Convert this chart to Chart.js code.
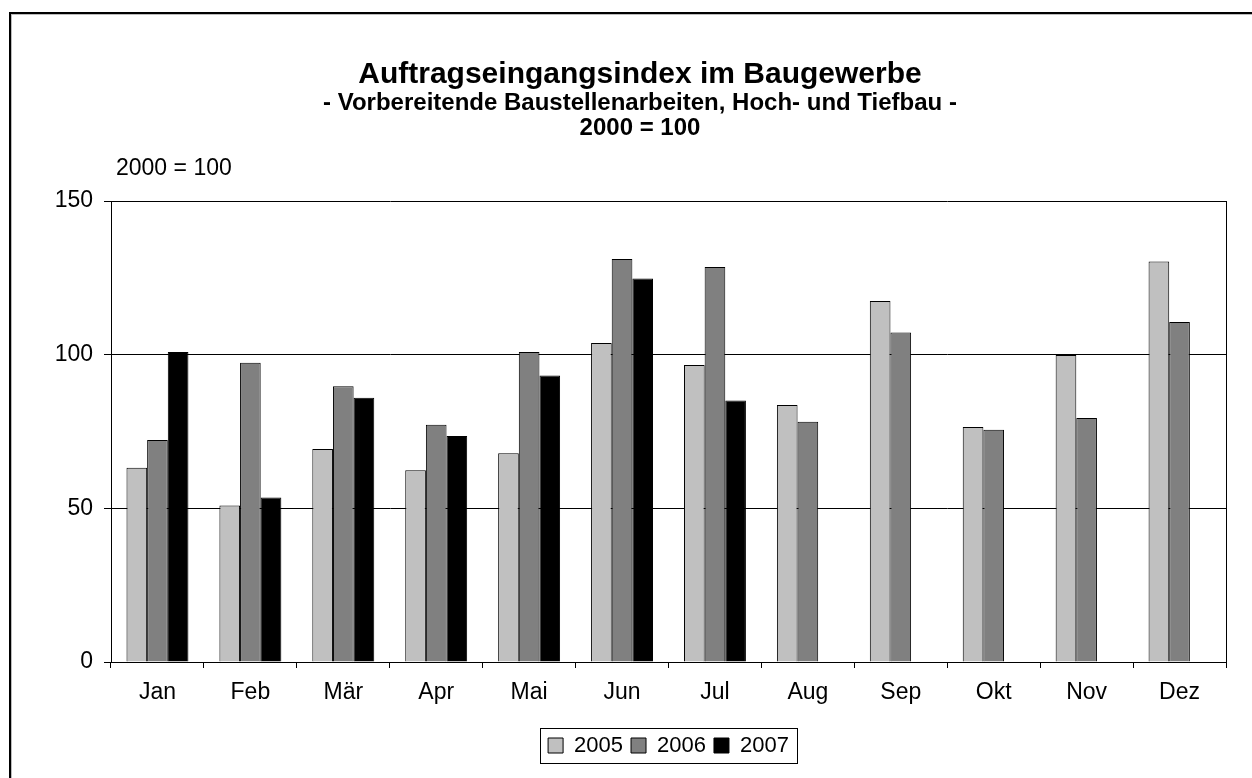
<!DOCTYPE html>
<html lang="de">
<head>
    <meta charset="UTF-8">
    <title>Auftragseingangsindex im Baugewerbe</title>
    <script src="https://cdn.jsdelivr.net/npm/chart.js"></script>
    <style>
        html, body { margin: 0; padding: 0; background: #fff; overflow: hidden; }
        #wrap { position: relative; width: 1252px; height: 778px; }
    </style>
</head>
<body>
    <div id="wrap">
        <canvas id="indexChart"></canvas>
    </div>

    <script>
        // Daten (2000 = 100)
        const monate = ['Jan', 'Feb', 'Mär', 'Apr', 'Mai', 'Jun', 'Jul', 'Aug', 'Sep', 'Okt', 'Nov', 'Dez'];
        const werte2005 = [63.2, 50.9, 69.3, 62.4, 67.9, 103.8, 96.6, 83.6, 117.5, 76.5, 99.9, 130.3];
        const werte2006 = [72.2, 97.4, 89.7, 77.2, 100.9, 131.1, 128.5, 78.2, 107.2, 75.6, 79.4, 110.6];
        const werte2007 = [100.9, 53.5, 86.0, 73.5, 93.2, 124.8, 85.1, null, null, null, null, null];
        const yTicks = [0, 50, 100, 150];

        const schrift = '"Liberation Sans", Arial, sans-serif';
        Chart.defaults.font.family = schrift;
        Chart.defaults.color = '#000';

        // Rahmen, rechte Achsenlinie, Legendenrahmen und "2000 = 100"
        const extras = {
            id: 'extras',
            beforeDraw(chart) {
                const ctx = chart.ctx;
                ctx.save();
                ctx.fillStyle = '#fff';
                ctx.fillRect(0, 0, chart.width, chart.height);
                ctx.fillStyle = '#000';
                ctx.fillRect(9, 12, chart.width, 2);
                ctx.fillRect(9, 12, 2, chart.height);
                ctx.fillStyle = '#bbb';
                ctx.fillRect(11, 14, chart.width, 1);
                ctx.fillRect(11, 14, 1, chart.height);
                ctx.restore();
            },
            afterDraw(chart) {
                const ctx = chart.ctx;
                const a = chart.chartArea;
                ctx.save();
                ctx.strokeStyle = '#000';
                ctx.lineWidth = 1;
                ctx.beginPath();
                ctx.moveTo(Math.round(a.right) + 0.5, a.top);
                ctx.lineTo(Math.round(a.right) + 0.5, a.bottom);
                ctx.stroke();

                ctx.font = '23px ' + schrift;
                ctx.fillStyle = '#000';
                ctx.textBaseline = 'middle';
                ctx.textAlign = 'left';
                ctx.fillText('2000 = 100', a.left + 5, a.top - 32);

                const boxes = chart.legend.legendHitBoxes;
                if (boxes && boxes.length) {
                    const first = boxes[0];
                    const last = boxes[boxes.length - 1];
                    const x1 = Math.round(first.left - 8) + 0.5;
                    const x2 = Math.round(last.left + last.width + 8) + 0.5;
                    const y1 = Math.round(first.top - 7) + 0.5;
                    const y2 = Math.round(first.top + first.height + 6) + 0.5;
                    ctx.strokeRect(x1, y1, x2 - x1, y2 - y1);
                }
                ctx.restore();
            }
        };

        const ctx = document.getElementById('indexChart').getContext('2d');
        new Chart(ctx, {
            type: 'bar',
            data: {
                labels: monate,
                datasets: [
                    { label: '2005', data: werte2005, backgroundColor: '#c0c0c0', borderColor: '#000', borderWidth: 1 },
                    { label: '2006', data: werte2006, backgroundColor: '#808080', borderColor: '#000', borderWidth: 1 },
                    { label: '2007', data: werte2007, backgroundColor: '#000000', borderColor: '#000', borderWidth: 1 }
                ]
            },
            options: {
                responsive: true,
                maintainAspectRatio: false,
                animation: false,
                layout: { padding: { left: 54, right: 26, top: 0, bottom: 11.5 } },
                datasets: {
                    bar: { categoryPercentage: 3 / 4.5, barPercentage: 1.0 }
                },
                scales: {
                    x: {
                        grid: { offset: true, drawOnChartArea: false, drawTicks: true, tickLength: 6, color: '#000', lineWidth: 1 },
                        border: { display: true, color: '#000', width: 1 },
                        ticks: { font: { size: 23 }, color: '#000', padding: 11, maxRotation: 0, autoSkip: false },
                        afterFit(scale) { scale.height = 64.5; }
                    },
                    y: {
                        min: 0,
                        max: 150,
                        afterBuildTicks(scale) { scale.ticks = yTicks.map(v => ({ value: v })); },
                        grid: { color: '#000', lineWidth: 1, tickLength: 7, drawTicks: true },
                        border: { display: true, color: '#000', width: 1 },
                        ticks: { font: { size: 23 }, color: '#000', padding: 11 },
                        afterFit(scale) { scale.width = 57; }
                    }
                },
                plugins: {
                    title: {
                        display: true,
                        text: 'Auftragseingangsindex im Baugewerbe',
                        font: { size: 30, weight: 'bold' },
                        color: '#000',
                        padding: { top: 57, bottom: -2 }
                    },
                    subtitle: {
                        display: true,
                        text: ['- Vorbereitende Baustellenarbeiten, Hoch- und Tiefbau -', '2000 = 100'],
                        font: { size: 24, weight: 'bold', lineHeight: 1.05 },
                        color: '#000',
                        padding: { top: 0, bottom: 59.6 }
                    },
                    legend: {
                        position: 'bottom',
                        fullSize: false,
                        labels: { boxWidth: 15, boxHeight: 15, padding: 8, font: { size: 22 }, color: '#000' }
                    },
                    tooltip: { enabled: false }
                }
            },
            plugins: [extras]
        });
    </script>
</body>
</html>
